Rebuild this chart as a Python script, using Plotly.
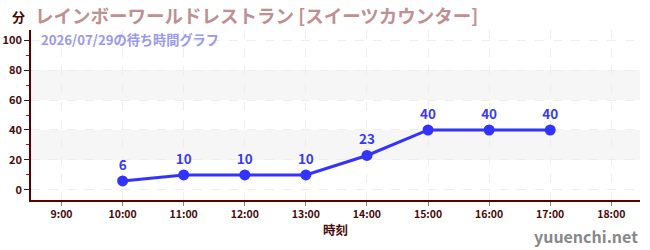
import plotly.graph_objects as go

hours = [10, 11, 12, 13, 14, 15, 16, 17]
waits = [6, 10, 10, 10, 23, 40, 40, 40]
tick_vals = [9, 10, 11, 12, 13, 14, 15, 16, 17, 18]
tick_text = ["9:00", "10:00", "11:00", "12:00", "13:00", "14:00", "15:00", "16:00", "17:00", "18:00"]
y_ticks = [0, 20, 40, 60, 80, 100]
bands = [(20, 40), (60, 80)]

title = "レインボーワールドレストラン [スイーツカウンター]"
subtitle = "2026/07/29の待ち時間グラフ"

font = "Noto Sans CJK JP"
fig = go.Figure()
for a, b in bands:
    fig.add_shape(type="rect", xref="paper", x0=0, x1=1, yref="y", y0=a, y1=b,
                  fillcolor="#f6f6f6", line_width=0, layer="below")
fig.add_trace(go.Scatter(
    x=hours, y=waits, mode="lines+markers+text",
    text=[str(v) for v in waits], textposition="top center",
    textfont=dict(color="#3a3af0", size=13.5, family=font, weight="bold"),
    line=dict(color="#3333ff", width=3),
    marker=dict(color="#3333ff", size=11),
    cliponaxis=False, hoverinfo="skip",
))

fig.update_layout(
    width=650, height=250,
    margin=dict(l=31, r=10, t=30, b=50),
    plot_bgcolor="white", paper_bgcolor="white",
    showlegend=False,
    font=dict(family=font, color="#4a0a0a", size=11),
    xaxis=dict(
        range=[8.5, 18.47], tickvals=tick_vals, ticktext=tick_text, automargin=False,
        showgrid=True, gridcolor="#eeeeee", griddash="dash", gridwidth=1,
        showline=True, linecolor="#5a0000", linewidth=1.5,
        ticks="outside", ticklen=4, tickcolor="#888888",
        tickfont=dict(size=10.5, color="#4a0a0a", weight="bold"),
        title=dict(text="時刻", font=dict(size=12.5, color="#4a0a0a", weight="bold"), standoff=6),
        zeroline=False,
    ),
    yaxis=dict(
        range=[-6.7, 106.7], tickvals=y_ticks, automargin=False,
        showgrid=True, gridcolor="#eeeeee", griddash="dash", gridwidth=1,
        showline=True, linecolor="#5a0000", linewidth=1.5,
        ticks="outside", ticklen=5, tickcolor="#222222",
        minor=dict(tickvals=[10, 30, 50, 70, 90], ticks="outside", ticklen=3, tickcolor="#dd0000", showgrid=False),
        tickfont=dict(size=11, color="#4a0a0a", weight="bold"),
        zeroline=False,
    ),
    annotations=[
        dict(text="分", xref="paper", yref="paper", x=-0.021, y=1.0, xanchor="center", yanchor="bottom",
             yshift=2, showarrow=False, font=dict(size=13, color="#4a0a0a", family=font, weight="bold")),
        dict(text=title, xref="paper", yref="paper", x=0.004, y=1.0, xanchor="left", yanchor="bottom",
             yshift=0, showarrow=False, font=dict(size=18.5, color="#c09090", family=font, weight="bold")),
        dict(text=subtitle, xref="paper", yref="paper", x=0.013, y=1.0, xanchor="left", yanchor="top",
             yshift=2, showarrow=False, font=dict(size=13.2, color="#9999ee", family=font, weight="bold")),
        dict(text="yuuenchi.net", xref="paper", yref="paper", x=1.0, y=0, xanchor="right", yanchor="top",
             yshift=-22, showarrow=False, font=dict(size=16, color="#888888", family=font, weight="bold")),
    ],
)
fig.write_html("out.html")
